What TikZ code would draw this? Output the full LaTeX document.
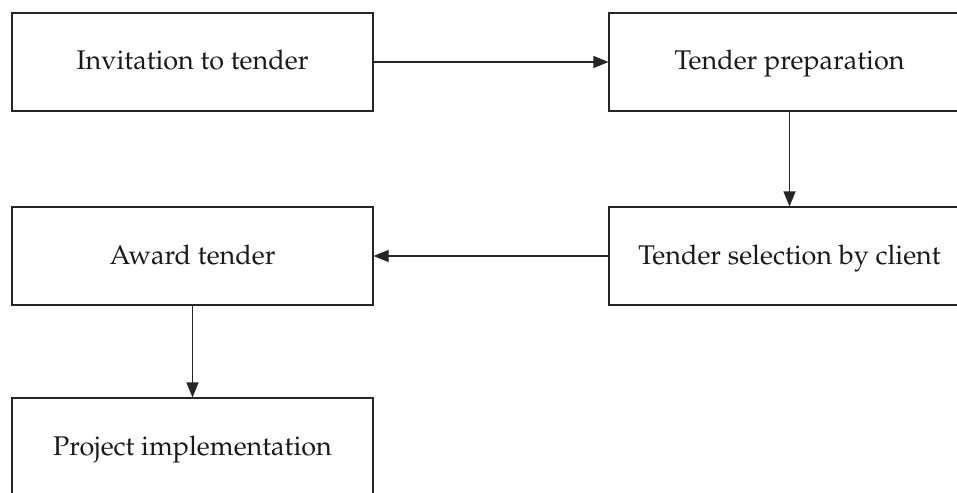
\documentclass[tikz,border=0pt]{standalone}
\usepackage[T1]{fontenc}
\usepackage{mathpazo}
\usetikzlibrary{arrows.meta}
\begin{document}
\begin{tikzpicture}[x=1pt,y=1pt,
  stagebox/.style={draw=black!85,line width=1.1pt,minimum width=361pt,minimum height=98pt,
    inner sep=0pt,text height=20pt,text depth=4pt,font=\fontsize{27}{32}\selectfont,text=black!90},
  flow/.style={draw=black!85,line width=1.1pt,-{Triangle[length=15pt,width=12pt]}}]
\useasboundingbox (0,0) rectangle (957,-492);
\clip (0,0) rectangle (957,-492);
\node[stagebox] (inv) at (192.5,-62) {Invitation to tender};
\node[stagebox] (prep) at (789.5,-62) {Tender preparation};
\node[stagebox] (sel) at (789.5,-256) {Tender selection by client};
\node[stagebox] (award) at (192.5,-256) {Award tender};
\node[stagebox] (impl) at (192.5,-447) {Project implementation};
\draw[flow] (inv) -- (prep);
\draw[flow] (prep) -- (sel);
\draw[flow] (sel) -- (award);
\draw[flow] (award) -- (impl);
\end{tikzpicture}
\end{document}
